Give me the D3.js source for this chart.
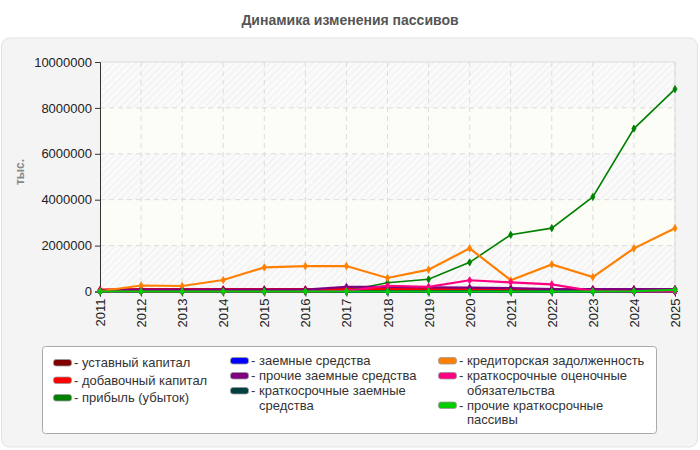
<!DOCTYPE html>
<html>
<head>
<meta charset="utf-8">
<script src="https://cdn.jsdelivr.net/npm/d3@7"></script>
<style>
  body { margin: 0; background: #fff; }
  svg { display: block; }
</style>
</head>
<body>
<svg id="chart"></svg>
<script>
// years on the x axis
const years = [2011, 2012, 2013, 2014, 2015, 2016, 2017, 2018, 2019, 2020, 2021, 2022, 2023, 2024, 2025];

// series values, thousands
const ustavnyi   = [10000, 10000, 10000, 10000, 10000, 10000, 10000, 10000, 10000, 10000, 10000, 10000, 10000, 10000, 10000];
const dobavochny = [80000, 100000, 100000, 100000, 100000, 100000, 110000, 110000, 100000, 100000, 100000, 100000, 100000, 100000, 100000];
const pribyl     = [0, 0, 0, 0, 0, 0, 30000, 380000, 530000, 1270000, 2470000, 2760000, 4120000, 7100000, 8820000];
const zaemnye    = [0, 0, 0, 0, 0, 0, 0, 0, 0, 0, 0, 0, 0, 0, 0];
const prochieZaem = [50000, 80000, 80000, 80000, 80000, 80000, 200000, 200000, 180000, 170000, 150000, 110000, 100000, 100000, 110000];
const kratkZaem  = [0, 0, 0, 0, 0, 0, 0, 0, 0, 0, 0, 0, 0, 0, 0];
const kreditor   = [10000, 262000, 240000, 500000, 1050000, 1110000, 1110000, 590000, 950000, 1880000, 490000, 1180000, 630000, 1880000, 2760000];
const ocenochnye = [0, 0, 0, 0, 0, 0, 30000, 250000, 200000, 490000, 400000, 310000, 20000, 0, 0];
const prochieKr  = [0, 0, 0, 0, 0, 0, 0, 0, 0, 0, 0, 0, 0, 10000, 70000];

const seriesNames = [
  "уставный капитал", "добавочный капитал", "прибыль (убыток)",
  "заемные средства", "прочие заемные средства", "краткосрочные заемные средства",
  "кредиторская задолженность", "краткосрочные оценочные обязательства", "прочие краткосрочные пассивы"
];
const seriesValues = [ustavnyi, dobavochny, pribyl, zaemnye, prochieZaem, kratkZaem, kreditor, ocenochnye, prochieKr];
const seriesColors = ["#800000", "#ff0000", "#008000", "#0000ff", "#800080", "#004040", "#ff8000", "#ff0080", "#00cc00"];

const yTicks = [0, 2000000, 4000000, 6000000, 8000000, 10000000];

const W = 700, H = 450;
const FONT = "'Liberation Sans', Arial, sans-serif";
const plot = {left: 100, right: 675, top: 62, bottom: 291.5};

const svg = d3.select("#chart").attr("width", W).attr("height", H)
    .attr("font-family", FONT);

// hatch pattern for the plot bands
const defs = svg.append("defs");
const pat = defs.append("pattern")
    .attr("id", "hatch")
    .attr("patternUnits", "userSpaceOnUse")
    .attr("width", 5).attr("height", 5)
    .attr("patternTransform", "rotate(45)");
pat.append("rect").attr("width", 5).attr("height", 5).attr("fill", "#fafafa");
pat.append("line").attr("x1", 0).attr("y1", 0).attr("x2", 0).attr("y2", 5)
    .attr("stroke", "#ececec").attr("stroke-width", 1.5);

// title
svg.append("text")
    .attr("x", W / 2).attr("y", 25)
    .attr("text-anchor", "middle")
    .attr("font-size", "14px").attr("font-weight", "bold")
    .attr("fill", "#555")
    .text("Динамика изменения пассивов");

// grey panel
svg.append("rect")
    .attr("x", 1.5).attr("y", 38).attr("width", 696).attr("height", 409)
    .attr("rx", 8)
    .attr("fill", "#f4f4f4").attr("stroke", "#e2e2e2");

const x = d3.scaleLinear().domain([years[0], years[years.length - 1]]).range([plot.left, plot.right]);
const y = d3.scaleLinear().domain([0, 10000000]).range([plot.bottom, plot.top]);

// alternating bands
const bands = d3.pairs(yTicks);
svg.append("g").selectAll("rect")
    .data(bands)
    .join("rect")
    .attr("x", plot.left).attr("width", plot.right - plot.left)
    .attr("y", d => y(d[1])).attr("height", d => y(d[0]) - y(d[1]))
    .attr("fill", (d, i) => i % 2 === 0 ? "url(#hatch)" : "#fcfdf7");

// grid
const grid = svg.append("g").attr("stroke", "#dcdcdc").attr("stroke-dasharray", "5,4");
grid.selectAll(".gx")
    .data(years.slice(1))
    .join("line")
    .attr("x1", d => x(d)).attr("x2", d => x(d))
    .attr("y1", plot.top).attr("y2", plot.bottom);
grid.selectAll(".gy")
    .data(yTicks.slice(1, -1))
    .join("line")
    .attr("x1", plot.left).attr("x2", plot.right)
    .attr("y1", d => y(d)).attr("y2", d => y(d));

// plot border top / right
svg.append("path")
    .attr("d", `M${plot.left},${plot.top}H${plot.right}V${plot.bottom}`)
    .attr("fill", "none").attr("stroke", "#dcdcdc");

// axes
const yAxis = d3.axisLeft(y).tickValues(yTicks).tickFormat(d3.format("d")).tickSizeOuter(0).tickSize(5).tickPadding(3);
const yg = svg.append("g").attr("transform", `translate(${plot.left},0)`).call(yAxis)
    .attr("font-family", FONT).attr("font-size", 13);
yg.selectAll("text").attr("fill", "#222");
yg.selectAll("line, path").attr("stroke", "#333");

const xAxis = d3.axisBottom(x).tickValues(years).tickFormat(d3.format("d")).tickSizeOuter(0).tickSize(5);
const xg = svg.append("g").attr("transform", `translate(0,${plot.bottom})`).call(xAxis)
    .attr("font-family", FONT).attr("font-size", 13);
xg.selectAll("text")
    .attr("fill", "#222")
    .attr("transform", "rotate(-90)")
    .attr("text-anchor", "end")
    .attr("x", -7).attr("y", 0).attr("dy", "0.35em");
xg.selectAll("line, path").attr("stroke", "#333");

// y axis title
svg.append("text")
    .attr("transform", "translate(24,172) rotate(-90)")
    .attr("text-anchor", "middle")
    .attr("font-size", "12px").attr("font-weight", "bold")
    .attr("fill", "#888")
    .text("тыс.");

// lines + markers
const line = d3.line().x((d, i) => x(years[i])).y(d => y(d));
const series = seriesValues.map((v, i) => ({name: seriesNames[i], values: v, color: seriesColors[i]}));
const sg = svg.append("g").selectAll("g")
    .data(series)
    .join("g");
sg.append("path")
    .attr("d", d => line(d.values))
    .attr("fill", "none")
    .attr("stroke", d => d.color)
    .attr("stroke-width", d => d.name === "прибыль (убыток)" ? 1.6 : 2.2);
const marker = d3.symbol().type(d3.symbolDiamond).size(15);
sg.selectAll("path.m")
    .data(d => d.values.map((v, i) => ({v, i, color: d.color})))
    .join("path")
    .attr("class", "m")
    .attr("d", marker)
    .attr("transform", d => `translate(${x(years[d.i])},${y(d.v)})`)
    .attr("fill", d => d.color)
    .attr("stroke", d => d.color).attr("stroke-width", 0.8);

// legend
svg.append("rect")
    .attr("x", 42.5).attr("y", 346.5).attr("width", 614).attr("height", 87)
    .attr("rx", 3)
    .attr("fill", "#fff").attr("stroke", "#aaa");

const legendCols = [
  {x: 53, idx: [0, 1, 2], start: 367, maxW: 170, step: 17.5},
  {x: 230, idx: [3, 4, 5], start: 365, maxW: 172, step: 15},
  {x: 438, idx: [6, 7, 8], start: 365, maxW: 186, step: 15}
];
const lineH = 14.5;
legendCols.forEach(col => {
  let by = col.start;
  col.idx.forEach(k => {
    const g = svg.append("g");
    g.append("rect")
        .attr("x", col.x + 0.5).attr("y", by - 7.5).attr("width", 18).attr("height", 6.5)
        .attr("rx", 2.5)
        .attr("fill", seriesColors[k]).attr("stroke", "#999").attr("stroke-width", 0.8);
    g.append("text")
        .attr("x", col.x + 21).attr("y", by)
        .attr("font-size", "13px").attr("fill", "#333")
        .text("-");
    const t = g.append("text")
        .attr("x", col.x + 29).attr("y", by)
        .attr("font-size", "13px").attr("fill", "#333");
    // simple word wrap
    const words = seriesNames[k].split(" ");
    let cur = [], lines = 1;
    let ts = t.append("tspan").attr("x", col.x + 29).attr("y", by);
    words.forEach(w => {
      cur.push(w);
      ts.text(cur.join(" "));
      if (ts.node().getComputedTextLength() > col.maxW && cur.length > 1) {
        cur.pop();
        ts.text(cur.join(" "));
        cur = [w];
        ts = t.append("tspan").attr("x", col.x + 29).attr("y", by + lines * lineH).text(w);
        lines++;
      }
    });
    by += col.step + (lines - 1) * lineH;
  });
});
</script>
</body>
</html>
